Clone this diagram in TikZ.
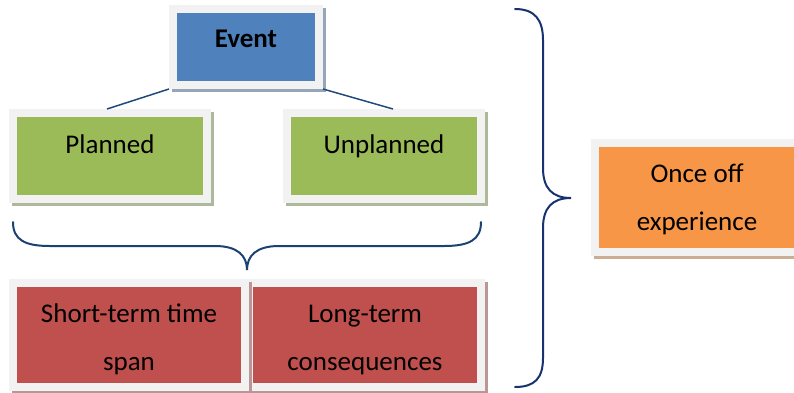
\documentclass[tikz,border=0pt]{standalone}
\usepackage{fontspec}
\setmainfont{Carlito}
\usetikzlibrary{shadows}

\definecolor{evblue}{HTML}{4F81BD}
\definecolor{plgreen}{HTML}{9BBB59}
\definecolor{spred}{HTML}{C0504D}
\definecolor{onorange}{HTML}{F79646}
\definecolor{framegray}{HTML}{F2F2F2}
\definecolor{linkblue}{HTML}{1F497D}
\definecolor{bracenavy}{HTML}{17336F}

\begin{document}
\begin{tikzpicture}[x=1pt,y=-1pt,
  box/.style={rectangle, fill=#1, draw=framegray, line width=8pt, inner sep=0pt,
    align=center, font=\fontsize{27}{48}\selectfont,
    drop shadow={shadow xshift=3pt, shadow yshift=-3pt, opacity=1,
      fill=#1!45!gray!70, draw=#1!45!gray!70, line width=8pt}},
  link/.style={draw=linkblue, line width=1.5pt},
  brace/.style={line width=2pt, line cap=round}]
  \useasboundingbox (0,0) rectangle (794,392);

  \node[box=evblue, minimum width=146, text height=38, text depth=38,
    font=\fontsize{27}{48}\selectfont\bfseries] (event) at (246,47) {Event};

  \node[box=plgreen, minimum width=194, text height=40, text depth=46] (planned) at (110,156) {Planned};
  \node[box=plgreen, minimum width=194, text height=40, text depth=46] (unplanned) at (384,156) {Unplanned};

  % right one first, so the left shadow shows between them
  \node[box=spred, minimum width=232, text height=87, text depth=17] (longterm) at (365,335) {Long-term\\consequences};
  \node[box=spred, minimum width=232, text height=87, text depth=17] (shortterm) at (129,335) {Short-term time\\span};

  \node[box=onorange, minimum width=204, text height=87, text depth=22] (onceoff) at (697,197.5) {Once off\\experience};

  \draw[link](event.south west) -- ([xshift=-3]planned.north);
  \draw[link](event.south east) -- ([xshift=9]unplanned.north);

  % brace under planned/unplanned
  \draw[brace, draw=linkblue!90!black](13,222) .. controls (13,240) and (25,246) .. (50,246) -- (215,246)
    .. controls (238,246) and (247,256) .. (247,270)
    .. controls (247,256) and (256,246) .. (279,246) -- (444,246)
    .. controls (469,246) and (481,240) .. (481,222);

  % big brace towards the orange box
  \draw[brace, draw=bracenavy](515,9) .. controls (535,9) and (543,20) .. (543,40) -- (543,168)
    .. controls (543,188) and (552,198) .. (571,198)
    .. controls (552,198) and (543,208) .. (543,228) -- (543,358)
    .. controls (543,378) and (535,387) .. (515,387);

\end{tikzpicture}
\end{document}
